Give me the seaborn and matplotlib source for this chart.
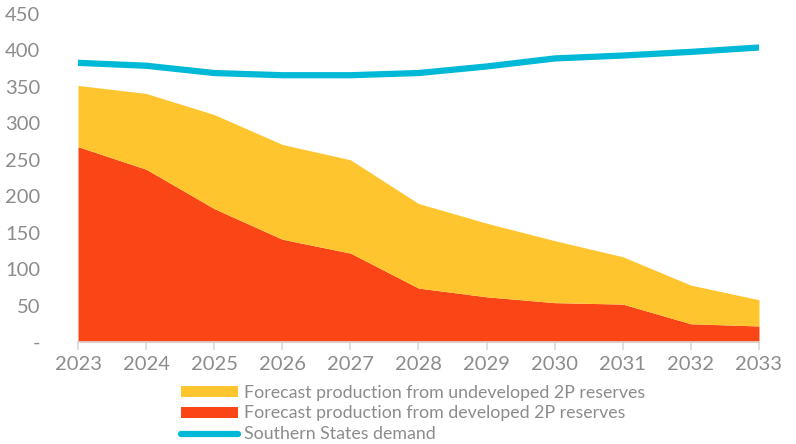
import matplotlib
matplotlib.use("Agg")
import matplotlib.pyplot as plt
from matplotlib.patches import Patch
from matplotlib.lines import Line2D
import seaborn as sns
import pandas as pd

years = [2023, 2024, 2025, 2026, 2027, 2028, 2029, 2030, 2031, 2032, 2033]
developed = [268, 237, 183, 141, 122, 74, 62, 54, 52, 25, 22]
undeveloped = [84, 104, 129, 130, 128, 116, 101, 85, 65, 53, 36]
demand = [383, 379, 369, 366, 366, 369, 378, 389, 393, 398, 404]

y_ticks = [0, 50, 100, 150, 200, 250, 300, 350, 400, 450]
y_tick_labels = ["-", "50", "100", "150", "200", "250", "300", "350", "400", "450"]

labels = [
    "Forecast production from undeveloped 2P reserves",
    "Forecast production from developed 2P reserves",
    "Southern States demand",
]

c_undev = "#FEC52E"
c_dev = "#FA4616"
c_demand = "#00B9D6"
c_text = "#8C8C8C"

sns.set_theme(style="white")
plt.rcParams["font.family"] = ["Lato", "DejaVu Sans"]

df = pd.DataFrame({"year": years, "demand": demand})

fig = plt.figure(figsize=(7.96, 4.44), dpi=100)
ax = fig.add_axes([0.098, 0.2297, 0.8555, 0.7388])

ax.stackplot(years, developed, undeveloped, colors=[c_dev, c_undev], linewidth=0)
sns.lineplot(data=df, x="year", y="demand", ax=ax, color=c_demand, linewidth=4.5,
             solid_capstyle="round")

ax.set_xlim(2023, 2033)
ax.set_ylim(0, 450)
ax.set_xticks(years)
ax.set_xticklabels([str(y) for y in years])
ax.set_yticks(y_ticks)
ax.set_yticklabels(y_tick_labels)
ax.set_xlabel("")
ax.set_ylabel("")

for side in ["left", "right", "top"]:
    ax.spines[side].set_visible(False)
ax.spines["bottom"].set_color("#D9D9D9")
ax.spines["bottom"].set_linewidth(1.2)
ax.tick_params(axis="x", bottom=True, length=6, width=1.2, color="#D9D9D9",
               labelsize=14.5, labelcolor=c_text, pad=4)
ax.tick_params(axis="y", left=False, labelsize=14.5, labelcolor=c_text, pad=21)

handles = [
    Patch(facecolor=c_undev, edgecolor="none"),
    Patch(facecolor=c_dev, edgecolor="none"),
    Line2D([0], [0], color=c_demand, linewidth=4.5, solid_capstyle="round"),
]
leg = fig.legend(handles, labels, loc="upper left", bbox_to_anchor=(0.218, 0.15),
                 frameon=False, fontsize=12.8, handlelength=3.2, handleheight=0.55,
                 handletextpad=0.35, labelspacing=0.28, borderaxespad=0)
for t in leg.get_texts():
    t.set_color(c_text)

fig.savefig("out.png", dpi=100)
